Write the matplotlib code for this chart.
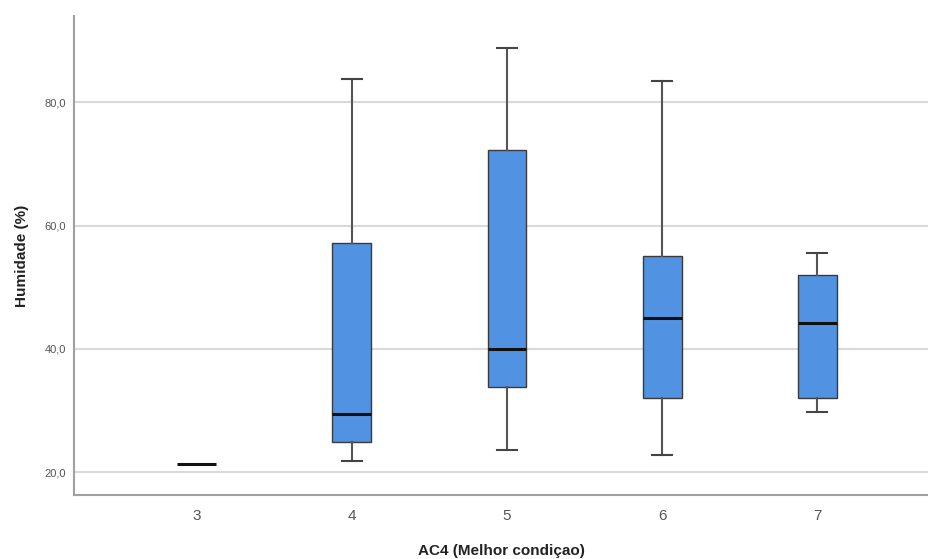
import matplotlib
matplotlib.use("Agg")
import matplotlib.pyplot as plt

plt.rcParams["font.family"] = ["Liberation Sans", "DejaVu Sans"]

categories = ["3", "4", "5", "6", "7"]
whislo = [21.4, 21.8, 23.6, 22.8, 29.8]
q1 = [21.4, 24.9, 33.8, 32.1, 32.1]
med = [21.4, 29.4, 40.0, 45.0, 44.2]
q3 = [21.4, 57.1, 72.2, 55.0, 52.0]
whishi = [21.4, 83.8, 88.8, 83.5, 55.5]
yticks = [20, 40, 60, 80]
ytick_labels = ["20,0", "40,0", "60,0", "80,0"]

fig = plt.figure(figsize=(9.29, 5.59), dpi=100)
ax = fig.add_axes([0.0797, 0.1145, 0.9203, 0.857])

positions = [int(c) for c in categories]
stats = []
for i, c in enumerate(categories):
    stats.append(dict(label=c, whislo=whislo[i], q1=q1[i], med=med[i],
                      q3=q3[i], whishi=whishi[i], fliers=[]))

# category 3 has a single value: draw only its median line
for i, s in enumerate(stats):
    single = s["q1"] == s["q3"]
    ax.bxp([s], positions=[positions[i]], widths=0.25, patch_artist=True,
           showfliers=False, showcaps=not single,
           boxprops=dict(facecolor="#5193e2", edgecolor="#3a3a3a" if not single else "none", linewidth=1.0),
           medianprops=dict(color="#111111", linewidth=2.2),
           whiskerprops=dict(color="#555555", linewidth=1.5),
           capprops=dict(color="#444444", linewidth=1.5),
           capwidths=0.13, zorder=3)

ax.set_xlim(2.21, 7.72)
ax.set_ylim(16.3, 94.0)
ax.set_yticks(yticks)
ax.set_yticklabels(ytick_labels)
ax.set_xticks(positions)
ax.set_xticklabels(categories)

ax.yaxis.grid(True, color="#d9d9d9", linewidth=1.5, zorder=0)
ax.set_axisbelow(True)
for sp in ["top", "right"]:
    ax.spines[sp].set_visible(False)
for sp in ["left", "bottom"]:
    ax.spines[sp].set_color("#a0a0a0")
    ax.spines[sp].set_linewidth(1.5)

ax.tick_params(axis="y", length=0, labelsize=8, labelcolor="#555555", pad=6)
ax.tick_params(axis="x", length=0, labelsize=11, labelcolor="#555555", pad=10)

ax.set_xlabel("AC4 (Melhor condiçao)", fontsize=11, fontweight="bold", color="#222222", labelpad=15)
ax.set_ylabel("Humidade (%)", fontsize=11, fontweight="bold", color="#222222", labelpad=11)

fig.savefig("out.png", dpi=100)
